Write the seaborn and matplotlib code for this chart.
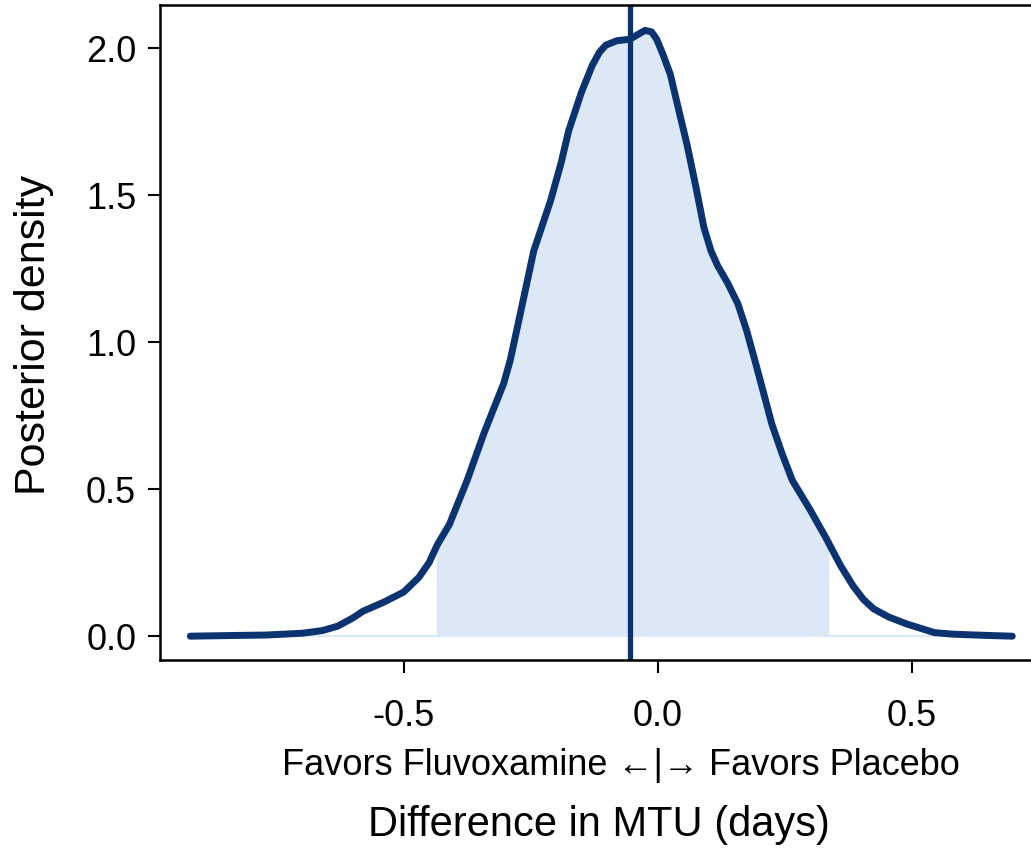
import matplotlib.pyplot as plt
import pandas as pd
import seaborn as sns

# posterior density of the MTU difference
diff_days = [-0.92, -0.85, -0.77, -0.70, -0.66, -0.63, -0.60, -0.58, -0.54, -0.50,
             -0.47, -0.45, -0.434, -0.41, -0.375, -0.342, -0.303, -0.29, -0.27,
             -0.244, -0.211, -0.19, -0.175, -0.15, -0.129, -0.115, -0.102, -0.08,
             -0.055, -0.04, -0.025, -0.012, -0.002, 0.01, 0.025, 0.04, 0.058, 0.075,
             0.091, 0.105, 0.118, 0.138, 0.158, 0.175, 0.191, 0.208, 0.225, 0.245,
             0.265, 0.30, 0.331, 0.36, 0.385, 0.405, 0.425, 0.455, 0.491, 0.545,
             0.58, 0.625, 0.66, 0.698]
density = [0.0, 0.002, 0.004, 0.010, 0.019, 0.034, 0.062, 0.085, 0.115, 0.15,
           0.20, 0.25, 0.31, 0.38, 0.53, 0.69, 0.86, 0.94, 1.10,
           1.31, 1.48, 1.61, 1.72, 1.85, 1.94, 1.985, 2.01, 2.025,
           2.03, 2.045, 2.06, 2.055, 2.03, 1.98, 1.91, 1.80, 1.67, 1.53,
           1.39, 1.31, 1.26, 1.20, 1.13, 1.04, 0.94, 0.83, 0.72, 0.62,
           0.53, 0.43, 0.335, 0.24, 0.17, 0.125, 0.093, 0.065, 0.041, 0.012,
           0.007, 0.004, 0.002, 0.0]
ci_low, ci_high = -0.436, 0.337
median_diff = -0.055
x_ticks = [-0.5, 0.0, 0.5]
y_ticks = [0.0, 0.5, 1.0, 1.5, 2.0]

navy = '#0a3370'
light = '#dce8f5'

sns.set_style("ticks")
plt.rcParams['font.family'] = ['Liberation Sans', 'DejaVu Sans']
plt.rcParams['text.color'] = 'black'
plt.rcParams['axes.labelcolor'] = 'black'
plt.rcParams['xtick.color'] = 'black'
plt.rcParams['ytick.color'] = 'black'

df = pd.DataFrame({'diff': diff_days, 'dens': density})
inside = df[(df['diff'] >= ci_low) & (df['diff'] <= ci_high)]
# exact CI edges so the shading ends cleanly
edges = pd.DataFrame({'diff': [ci_low, ci_high], 'dens': [0.31, 0.345]})
shade = pd.concat([edges.iloc[[0]], inside, edges.iloc[[1]]])

fig = plt.figure(figsize=(10.31, 8.52), dpi=100)
ax = fig.add_axes([0.155, 0.225, 0.85, 0.769])

ax.fill_between(shade['diff'], 0, shade['dens'], color=light, lw=0)
ax.plot([min(diff_days), max(diff_days)], [0, 0], color=light, lw=1.5)
sns.lineplot(data=df, x='diff', y='dens', ax=ax, color=navy, lw=5,
             solid_capstyle='round', solid_joinstyle='round', sort=False)
ax.axvline(median_diff, color=navy, lw=3.8)

ax.set_xlim(-0.98, 0.745)
ax.set_ylim(-0.082, 2.146)
ax.set_xticks(x_ticks)
ax.set_xticklabels(['-0.5', '0.0', '0.5'])
ax.set_yticks(y_ticks)
ax.set_yticklabels(['0.0', '0.5', '1.0', '1.5', '2.0'])
ax.tick_params(axis='both', labelsize=26, length=9, width=1.5, pad=8)
ax.tick_params(axis='x', pad=19)
for sp in ax.spines.values():
    sp.set_linewidth(1.8)
    sp.set_color('black')

ax.set_ylabel('Posterior density', fontsize=31)
ax.yaxis.set_label_coords(-0.143, 0.496)
ax.yaxis.label.set_va('center')
ax.set_xlabel('Difference in MTU (days)', fontsize=30)
ax.xaxis.set_label_coords(0.501, -0.252)
ax.xaxis.label.set_va('center')
ax.text(0.526, -0.160, 'Favors Fluvoxamine \u2190|\u2192 Favors Placebo',
        transform=ax.transAxes, ha='center', va='center', fontsize=26)

plt.savefig('out.png', dpi=100)
